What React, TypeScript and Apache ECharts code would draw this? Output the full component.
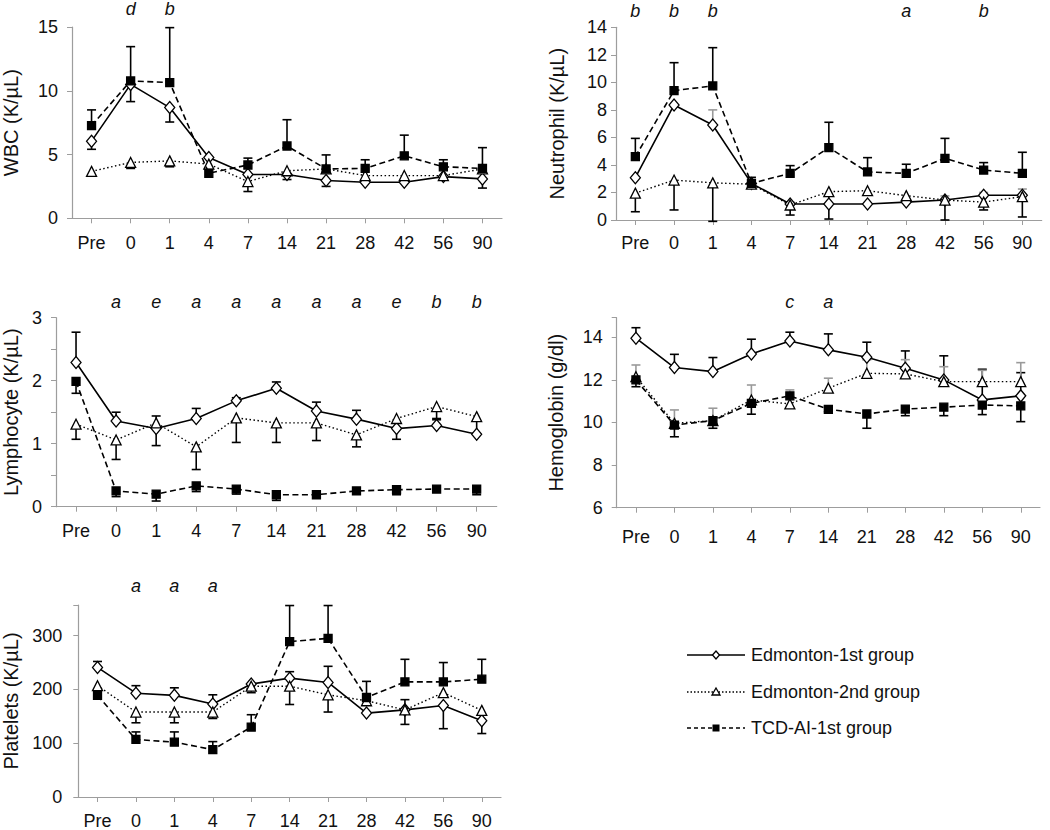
import React, { useEffect, useRef } from "react";
import * as echarts from "echarts";

const categories = ["Pre", "0", "1", "4", "7", "14", "21", "28", "42", "56", "90"];
const seriesNames = ["Edmonton-1st group", "Edmonton-2nd group", "TCD-AI-1st group"];

// WBC
const wbcEdm1 = [6.05, 10.5, 8.68, 4.77, 3.43, 3.43, 2.96, 2.83, 2.83, 3.27, 3.09];
const wbcEdm2 = [3.68, 4.38, 4.5, 4.25, 2.88, 3.73, 3.87, 3.35, 3.35, 3.35, 3.87];
const wbcTcd = [7.27, 10.77, 10.64, 3.53, 4.18, 5.67, 3.87, 3.91, 4.9, 4.04, 3.91];
const wbcEdm1Err = [5.41, 9.15, 7.55, null, null, 3.04, 2.5, null, null, null, 2.37];
const wbcEdm2Err = [3.3, 3.91, 4.04, null, 2.1, null, null, null, null, null, null];
const wbcTcdErr = [8.5, 13.46, 14.95, null, 4.72, 7.73, 4.97, 4.59, 6.52, 4.59, 5.54];
const wbcMarks = ["", "d", "b", "", "", "", "", "", "", "", ""];

// Neutrophil
const neuEdm1 = [3.07, 8.36, 6.9, 2.66, 1.16, 1.16, 1.16, 1.3, 1.45, 1.8, 1.8];
const neuEdm2 = [1.95, 2.9, 2.7, 2.6, 1.09, 2.06, 2.13, 1.77, 1.45, 1.3, 1.7];
const neuTcd = [4.6, 9.4, 9.74, 2.66, 3.39, 5.26, 3.49, 3.39, 4.48, 3.63, 3.39];
const neuEdm1Err = [null, null, 8.0, null, 1.3, null, null, null, 1.75, 2.0, 2.25];
const neuEdm2Err = [0.6, 0.73, -0.1, null, 0.36, 0.07, null, null, 0, 0.73, 0.22];
const neuTcdErr = [5.93, 11.43, 12.52, 3.1, 3.95, 7.1, 4.53, 4.05, 5.93, 4.17, 4.92];
const neuMarks = ["b", "b", "b", "", "", "", "", "a", "", "b", ""];

// Lymphocyte
const lymEdm1 = [2.29, 1.36, 1.24, 1.4, 1.68, 1.88, 1.52, 1.39, 1.24, 1.29, 1.15];
const lymEdm2 = [1.31, 1.06, 1.33, 0.95, 1.41, 1.33, 1.33, 1.14, 1.4, 1.59, 1.43];
const lymTcd = [1.99, 0.25, 0.2, 0.33, 0.28, 0.19, 0.19, 0.25, 0.27, 0.28, 0.28];
const lymEdm1Err = [2.77, 1.5, 1.44, 1.56, 1.73, 1.98, 1.66, 1.53, 1.07, 1.4, null];
const lymEdm2Err = [1.07, 0.75, 0.97, 0.59, 1.02, 1.02, 1.05, 0.95, null, 1.38, 1.16];
const lymTcdErr = [1.8, 0.16, 0.09, 0.24, 0.2, 0.1, null, null, 0.19, null, 0.19];
const lymMarks = ["", "a", "e", "a", "a", "a", "a", "a", "e", "b", "b"];

// Hemoglobin
const hemEdm1 = [13.96, 12.58, 12.39, 13.22, 13.83, 13.41, 13.06, 12.55, 12.0, 11.06, 11.25];
const hemEdm2 = [12.15, 9.96, 10.09, 11.06, 10.87, 11.61, 12.31, 12.28, 11.92, 11.92, 11.92];
const hemTcd = [12.0, 9.88, 10.09, 10.9, 11.25, 10.62, 10.4, 10.63, 10.72, 10.82, 10.78];
const hemEdm1Err = [14.45, 13.2, 13.05, 13.91, 14.24, 14.16, 13.77, 13.36, 13.13, 12.5, 12.34];
const hemEdm2Err = [12.7, 10.59, 10.67, 11.76, 11.53, 12.08, 12.94, 12.95, 12.62, 12.45, 12.81];
const hemTcdErr = [11.68, 9.33, 9.73, 10.39, null, 10.51, 9.73, 10.32, 10.32, 10.37, 10.04];
const hemMarks = ["", "", "", "", "c", "a", "", "", "", "", ""];

// Platelets
const pltEdm1 = [241, 193, 189, 173, 210, 221, 213, 156, 162, 170, 142];
const pltEdm2 = [207, 158, 158, 158, 206, 206, 190, 179, 162, 194, 161];
const pltTcd = [189, 107, 102, 88, 130, 289, 295, 185, 214, 214, 219];
const pltEdm1Err = [252, 207, 203, 190, null, 233, 243, null, 181, 127, 118];
const pltEdm2Err = [null, 138, 138, 146, 194, 172, 158, null, 135, null, null];
const pltTcdErr = [null, 121, 121, 103, 153, 356, 356, 215, 256, 250, 256];
const pltMarks = ["", "a", "a", "a", "", "", "", "", "", "", ""];

const BLACK = "#000";
const GRAY = "#9a9a9a";
const AXIS = "#9d9d9d";
const TEXT = "#111";
const FONT = "Liberation Sans, Arial, sans-serif";

const panels = [
  {
    title: "WBC (K/µL)", grid: { left: 70, top: 24, width: 432, height: 194.3 },
    y: { min: 0, max: 15, interval: 5 }, keep: (v: number) => v % 5 === 0,
    series: [wbcEdm1, wbcEdm2, wbcTcd], errs: [wbcEdm1Err, wbcEdm2Err, wbcTcdErr],
    errColors: [BLACK, BLACK, BLACK], marks: wbcMarks, xMargin: 16, yMargin: 14, markMargin: 9, nameGap: 52,
  },
  {
    title: "Neutrophil (K/µL)", grid: { left: 616, top: 27.3, width: 425.7, height: 192.7 },
    y: { min: 0, max: 14, interval: 2 }, keep: (v: number) => v % 2 === 0,
    series: [neuEdm1, neuEdm2, neuTcd], errs: [neuEdm1Err, neuEdm2Err, neuTcdErr],
    errColors: [GRAY, BLACK, BLACK], marks: neuMarks, xMargin: 14, yMargin: 9, markMargin: 7, nameGap: 50,
  },
  {
    title: "Lymphocyte (K/µL)", grid: { left: 54, top: 317.7, width: 442.7, height: 189 },
    y: { min: 0, max: 3, interval: 0.5 }, keep: (v: number) => Math.abs(v - Math.round(v)) < 1e-6,
    series: [lymEdm1, lymEdm2, lymTcd], errs: [lymEdm1Err, lymEdm2Err, lymTcdErr],
    errColors: [BLACK, BLACK, BLACK], marks: lymMarks, xMargin: 15, yMargin: 14, markMargin: 7, nameGap: 36,
  },
  {
    title: "Hemoglobin (g/dl)", grid: { left: 616.7, top: 317.7, width: 423.3, height: 190 },
    y: { min: 6, max: 14.92, interval: 2 }, keep: (v: number) => Math.abs(v - Math.round(v)) < 1e-6 && Math.round(v) % 2 === 0,
    series: [hemEdm1, hemEdm2, hemTcd], errs: [hemEdm1Err, hemEdm2Err, hemTcdErr],
    errColors: [BLACK, GRAY, BLACK], marks: hemMarks, xMargin: 20, yMargin: 14, markMargin: 7, nameGap: 52,
  },
  {
    title: "Platelets (K/µL)", grid: { left: 78.3, top: 605, width: 422.7, height: 192.7 },
    y: { min: 0, max: 357, interval: 100 }, keep: (v: number) => v % 100 === 0,
    series: [pltEdm1, pltEdm2, pltTcd], errs: [pltEdm1Err, pltEdm2Err, pltTcdErr],
    errColors: [BLACK, BLACK, BLACK], marks: pltMarks, xMargin: 15, yMargin: 16, markMargin: 10, nameGap: 58,
  },
];

const lineStyles = [
  { type: "solid", width: 1.6 },
  { type: [1.5, 2.5], width: 1.4 },
  { type: [6, 3.5], width: 1.6 },
];
const symbols = [
  { symbol: "diamond", size: [10, 12], fill: "#fff" },
  { symbol: "triangle", size: [10, 10], fill: "#fff" },
  { symbol: "rect", size: [8, 8], fill: "#000" },
];

function buildOption() {
  const grid: any[] = [];
  const xAxis: any[] = [];
  const yAxis: any[] = [];
  const series: any[] = [];
  panels.forEach((p, gi) => {
    grid.push({ ...p.grid, containLabel: false });
    xAxis.push({
      type: "category", gridIndex: gi, data: categories, position: "bottom",
      axisLine: { lineStyle: { color: AXIS, width: 1.2 } },
      axisTick: { show: true, alignWithLabel: true, length: 5, lineStyle: { color: AXIS } },
      axisLabel: { color: TEXT, fontSize: 18, fontFamily: FONT, margin: p.xMargin, interval: 0 },
    });
    xAxis.push({
      type: "category", gridIndex: gi, data: p.marks, position: "top",
      axisLine: { show: false }, axisTick: { show: false },
      axisLabel: { color: TEXT, fontSize: 18, fontStyle: "italic", fontFamily: FONT, margin: p.markMargin, interval: 0 },
    });
    yAxis.push({
      type: "value", gridIndex: gi, min: p.y.min, max: p.y.max, interval: p.y.interval,
      name: p.title, nameLocation: "middle", nameRotate: 90, nameGap: p.nameGap - 1,
      nameTextStyle: { color: TEXT, fontSize: 20, fontFamily: FONT },
      splitLine: { show: false },
      axisLine: { show: true, lineStyle: { color: AXIS, width: 1.2 } },
      axisTick: { show: true, length: 5, lineStyle: { color: AXIS } },
      axisLabel: {
        color: TEXT, fontSize: 18, fontFamily: FONT, margin: p.yMargin, showMaxLabel: true,
        formatter: (v: number) => (p.keep(v) ? String(Math.round(v)) : ""),
      },
    });
    const xIdx = gi * 2;
    p.errs.forEach((err, si) => {
      const vals = p.series[si];
      const data = err
        .map((e, i) => (e === null ? null : [i, vals[i], e]))
        .filter((d) => d !== null);
      const color = p.errColors[si];
      series.push({
        type: "custom", xAxisIndex: xIdx, yAxisIndex: gi, z: 2, silent: true,
        encode: { x: 0, y: [1, 2] }, data,
        renderItem: (params: any, api: any) => {
          const p1 = api.coord([api.value(0), api.value(1)]);
          const p2 = api.coord([api.value(0), api.value(2)]);
          return {
            type: "group",
            children: [
              { type: "line", shape: { x1: p1[0], y1: p1[1], x2: p2[0], y2: p2[1] }, style: { stroke: color, lineWidth: 1.6 } },
              { type: "line", shape: { x1: p2[0] - 4.5, y1: p2[1], x2: p2[0] + 4.5, y2: p2[1] }, style: { stroke: color, lineWidth: 1.6 } },
            ],
          };
        },
      });
    });
    p.series.forEach((vals, si) => {
      const sym = symbols[si];
      series.push({
        type: "line", name: seriesNames[si], xAxisIndex: xIdx, yAxisIndex: gi, z: 3 + si,
        data: vals, symbol: sym.symbol, symbolSize: sym.size, showSymbol: true,
        lineStyle: { color: BLACK, ...lineStyles[si] },
        itemStyle: { color: sym.fill, borderColor: BLACK, borderWidth: 1.3 },
        emphasis: { disabled: true },
      });
    });
  });

  const legendRows = [655, 692, 728];
  const lx1 = 687, lx2 = 745, mx = 716;
  const graphic: any[] = [];
  legendRows.forEach((y, i) => {
    graphic.push({
      type: "line", shape: { x1: lx1, y1: y, x2: lx2, y2: y },
      style: { stroke: BLACK, lineWidth: 1.4, lineDash: i === 0 ? null : (i === 1 ? [1.5, 2] : [4, 3]) },
    });
    if (i === 0) {
      graphic.push({ type: "polygon", shape: { points: [[mx - 3.5, y], [mx, y - 4], [mx + 3.5, y], [mx, y + 4]] }, style: { fill: "#fff", stroke: BLACK, lineWidth: 1.3 }, z: 10 });
    } else if (i === 1) {
      graphic.push({ type: "polygon", shape: { points: [[mx - 4, y + 3], [mx, y - 4], [mx + 4, y + 3]] }, style: { fill: "#fff", stroke: BLACK, lineWidth: 1.3 }, z: 10 });
    } else {
      graphic.push({ type: "rect", shape: { x: mx - 3.5, y: y - 3.5, width: 7, height: 7 }, style: { fill: BLACK }, z: 10 });
    }
    graphic.push({
      type: "text", x: 751, y, style: { text: seriesNames[i], fill: TEXT, fontSize: 18, fontFamily: FONT, verticalAlign: "middle" },
    });
  });

  return { animation: false, backgroundColor: "#fff", grid, xAxis, yAxis, series, graphic };
}

export default function App() {
  const ref = useRef<HTMLDivElement>(null);
  useEffect(() => {
    if (!ref.current) return;
    const chart = echarts.init(ref.current, null, { renderer: "svg" });
    chart.setOption(buildOption() as any);
    return () => chart.dispose();
  }, []);
  return <div ref={ref} style={{ position: "absolute", left: 0, top: 0, width: 1050, height: 830 }} />;
}
